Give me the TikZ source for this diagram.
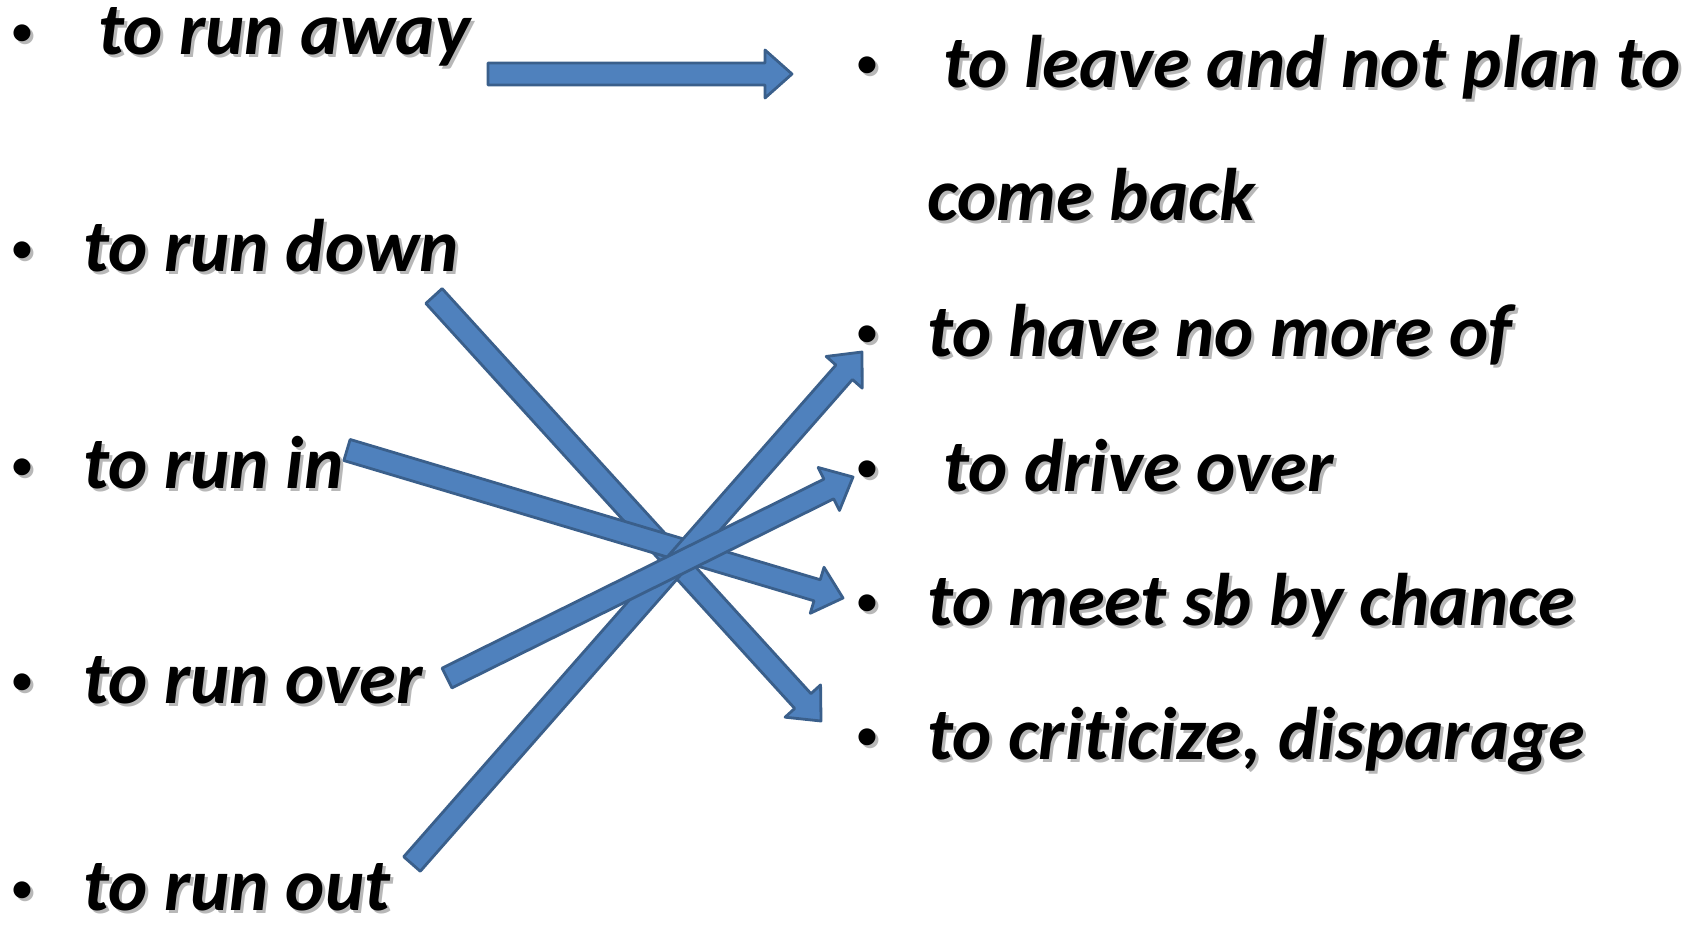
\documentclass[tikz,border=0pt]{standalone}
\usepackage{fontspec}
\setmainfont{Carlito}[Ligatures={NoCommon}]
\usetikzlibrary{calc}
\definecolor{arrfill}{HTML}{4F81BD}
\definecolor{arrline}{HTML}{3A5F8B}
\newcommand\shadowed[1]{\rlap{\kern3pt\raisebox{-3pt}{\textcolor{black!28}{#1}}}#1}
\newcommand\blockarrow[2]{%
  \coordinate (#1q) at ($(#2)!27pt!(#1)$);
  \draw[blockarr] ($(#1)!11pt!90:(#2)$) -- ($(#1q)!11pt!90:(#2)$) -- ($(#1q)!24pt!90:(#2)$) -- (#2)
     -- ($(#1q)!24pt!-90:(#2)$) -- ($(#1q)!11pt!-90:(#2)$) -- ($(#1)!11pt!-90:(#2)$) -- cycle;}
\begin{document}
\begin{tikzpicture}[x=1pt,y=-1pt,
  item/.style={anchor=base west, inner sep=0pt, font=\bfseries\itshape\fontsize{74.5}{86}\selectfont},
  bul/.style={anchor=base, inner sep=0pt, font=\bfseries\fontsize{40}{44}\selectfont},
  blockarr/.style={fill=arrfill, draw=arrline, line width=2.8pt, line join=round}]
\useasboundingbox (0,0) rectangle (1700,930);
% left column
\node[bul] (b1) at (22,44) {\shadowed{•}};
\node[item] (l1) at (98,54) {\shadowed{to run away}};
\node[bul] (b2) at (22,261) {\shadowed{•}};
\node[item] (l2) at (83,271) {\shadowed{to run down}};
\node[bul] (b3) at (22,478) {\shadowed{•}};
\node[item] (l3) at (83,488) {\shadowed{to run in}};
\node[bul] (b4) at (22,693) {\shadowed{•}};
\node[item] (l4) at (83,703) {\shadowed{to run over}};
\node[bul] (b5) at (22,901) {\shadowed{•}};
\node[item] (l5) at (83,910) {\shadowed{to run out}};
% right column
\node[bul] (c1) at (867,76) {\shadowed{•}};
\node[item] (r1) at (943,87) {\shadowed{to leave and not plan to}};
\node[item] (r1b) at (927,220) {\shadowed{come back}};
\node[bul] (c2) at (867,345) {\shadowed{•}};
\node[item] (r2) at (927,356) {\shadowed{to have no more of}};
\node[bul] (c3) at (867,480) {\shadowed{•}};
\node[item] (r3) at (943,491) {\shadowed{to drive over}};
\node[bul] (c4) at (867,614) {\shadowed{•}};
\node[item] (r4) at (927,625) {\shadowed{to meet sb by chance}};
\node[bul] (c5) at (867,748) {\shadowed{•}};
\node[item] (r5) at (927,759) {\shadowed{to criticize, disparage}};
% arrow ends
\coordinate (aS) at (488,74);  \coordinate (aE) at (792,74);
\coordinate (dS) at (434,296); \coordinate (dE) at (821,721);
\coordinate (iS) at (347,450); \coordinate (iE) at (843,598);
\coordinate (uS) at (412,864); \coordinate (uE) at (862,352);
\coordinate (vS) at (447,678); \coordinate (vE) at (853,477);
\blockarrow{aS}{aE}
\blockarrow{dS}{dE}
\blockarrow{iS}{iE}
\blockarrow{uS}{uE}
\blockarrow{vS}{vE}
\end{tikzpicture}
\end{document}
